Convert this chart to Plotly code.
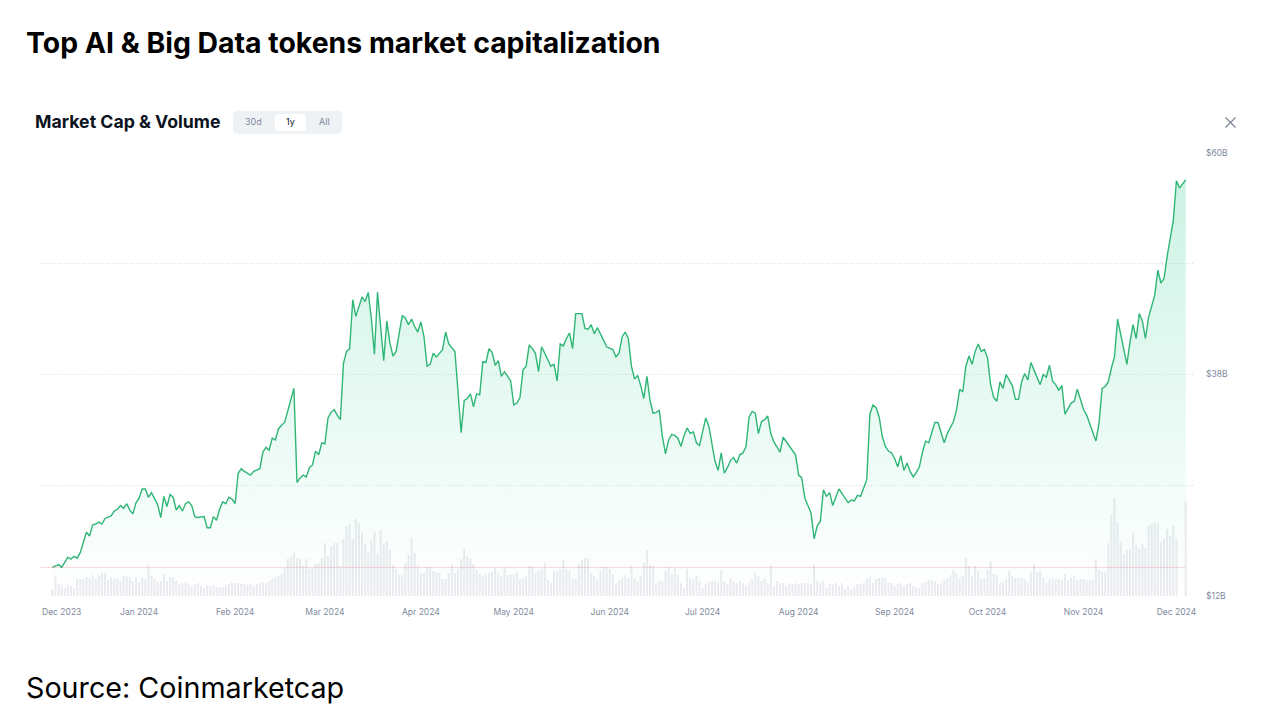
import pandas as pd
import plotly.graph_objects as go

START = pd.Timestamp("2023-12-01")

# market cap of the AI & big data tokens, $B
# (day offset from 2023-12-01, value)
mcap_day = [
    3, 5, 6, 8, 9, 10, 11, 12, 14, 15, 16, 17, 18, 19, 20, 22, 23, 24, 25, 26,
    27, 28, 29, 30, 31, 32, 33, 34, 35, 37, 38, 39, 40, 41, 42, 43, 44, 45, 46, 47,
    48, 49, 50, 52, 53, 54, 55, 56, 57, 58, 59, 60, 61, 62, 63, 64, 65, 67, 68, 70,
    71, 72, 73, 74, 75, 76, 77, 78, 81, 82, 83, 84, 85, 86, 87, 88, 89, 90, 91, 92,
    93, 94, 95, 96, 97, 98, 99, 100, 101, 102, 103, 104, 105, 106, 107, 108, 109, 110, 111, 112,
    113, 114, 116, 117, 118, 119, 120, 121, 122, 123, 124, 125, 126, 127, 129, 130, 131, 133, 135, 136,
    137, 138, 139, 140, 141, 142, 143, 144, 145, 146, 147, 148, 149, 151, 152, 153, 154, 155, 156, 157,
    158, 159, 160, 161, 162, 163, 164, 165, 166, 167, 168, 169, 170, 171, 172, 174, 175, 176, 177, 178,
    179, 180, 182, 184, 185, 186, 187, 188, 189, 190, 191, 192, 193, 194, 195, 196, 197, 198, 199, 200,
    201, 202, 203, 204, 205, 206, 207, 208, 209, 210, 211, 212, 213, 214, 215, 216, 217, 218, 219, 220,
    221, 222, 223, 224, 225, 226, 227, 228, 229, 230, 231, 232, 233, 234, 235, 236, 238, 239, 240, 242,
    243, 244, 245, 246, 248, 249, 250, 251, 252, 253, 254, 255, 257, 259, 260, 261, 262, 263, 264, 266,
    267, 268, 269, 270, 271, 272, 273, 274, 275, 276, 277, 278, 279, 280, 281, 282, 283, 284, 285, 286,
    287, 288, 289, 290, 291, 292, 294, 295, 296, 297, 298, 299, 300, 301, 302, 303, 304, 305, 306, 307,
    308, 309, 310, 311, 312, 313, 314, 315, 316, 317, 318, 319, 320, 322, 323, 324, 325, 326, 327, 328,
    329, 330, 332, 333, 334, 336, 337, 340, 341, 342, 343, 344, 345, 346, 347, 350, 351, 352, 353, 354,
    355, 356, 357, 359, 360, 361, 362, 363, 365, 366, 367, 369,
]
mcap_bn = [
    15.1, 15.4, 15.1, 16.2, 16.0, 16.3, 16.1, 16.7, 18.9, 18.5, 19.7, 19.8, 20.0, 19.8, 20.4, 20.7, 21.2, 21.4, 21.8, 21.5,
    22.0, 21.3, 20.9, 22.1, 22.6, 23.6, 23.6, 22.7, 23.2, 21.9, 20.5, 22.8, 21.7, 23.0, 22.7, 21.3, 21.8, 21.2, 22.0, 22.2,
    21.8, 20.6, 20.5, 20.6, 19.4, 19.4, 20.6, 20.2, 21.4, 22.2, 22.0, 22.7, 22.5, 22.0, 25.3, 25.8, 25.5, 25.1, 25.5, 25.8,
    27.6, 28.1, 27.8, 29.1, 28.9, 30.1, 30.5, 30.8, 34.5, 24.3, 24.8, 25.1, 24.9, 25.9, 26.2, 27.7, 27.3, 28.6, 28.5, 31.3,
    31.9, 32.2, 31.6, 31.1, 37.2, 38.5, 38.8, 44.1, 42.3, 43.5, 44.4, 43.9, 44.9, 42.1, 38.2, 44.9, 41.4, 37.5, 41.8, 39.4,
    38.0, 38.5, 42.4, 42.1, 41.4, 42.0, 41.2, 40.6, 41.7, 40.1, 36.9, 37.1, 38.3, 37.9, 38.7, 40.6, 39.3, 38.5, 29.7, 33.2,
    33.4, 33.9, 32.5, 33.9, 33.8, 37.4, 37.3, 38.8, 38.4, 37.0, 37.5, 35.8, 36.3, 35.3, 32.7, 32.9, 33.5, 36.5, 36.9, 39.2,
    38.8, 38.3, 36.3, 39.0, 38.3, 37.6, 36.9, 37.1, 35.3, 39.3, 39.1, 39.9, 40.5, 38.8, 42.6, 42.6, 41.0, 40.9, 41.4, 40.4,
    41.1, 40.4, 39.0, 38.7, 37.9, 38.3, 40.1, 40.6, 39.9, 36.9, 35.5, 35.9, 34.8, 33.4, 35.8, 33.2, 31.8, 31.9, 32.1, 29.3,
    27.4, 28.9, 29.5, 29.4, 29.1, 28.2, 29.4, 30.2, 29.6, 29.8, 28.6, 28.3, 29.7, 31.3, 30.4, 28.6, 26.6, 25.6, 27.5, 25.3,
    25.9, 26.7, 27.0, 26.4, 27.3, 27.5, 28.2, 31.4, 32.0, 31.8, 29.6, 30.9, 31.1, 31.5, 29.6, 28.7, 27.6, 29.2, 28.7, 27.8,
    27.3, 25.1, 24.8, 22.6, 21.0, 18.2, 19.6, 20.1, 23.5, 22.8, 23.2, 21.8, 23.6, 22.6, 22.1, 22.4, 22.3, 22.9, 22.8, 24.6,
    31.7, 32.7, 32.4, 31.4, 29.3, 28.2, 27.7, 27.5, 26.9, 26.0, 27.2, 25.6, 26.4, 25.5, 24.9, 25.4, 26.0, 27.6, 28.8, 28.6,
    29.8, 30.8, 30.8, 29.7, 28.6, 29.6, 30.9, 32.2, 34.4, 34.1, 36.9, 38.0, 37.1, 38.5, 39.3, 38.5, 38.7, 37.8, 34.9, 33.5,
    33.1, 35.2, 34.5, 36.0, 35.4, 34.8, 33.3, 33.3, 35.2, 36.1, 35.4, 37.3, 36.5, 34.9, 36.0, 35.7, 37.0, 35.3, 34.9, 34.3,
    34.8, 31.7, 32.9, 33.1, 34.4, 32.2, 31.6, 28.8, 30.7, 34.5, 34.7, 35.2, 36.7, 37.9, 42.0, 37.1, 39.5, 41.4, 39.9, 42.6,
    41.8, 39.9, 42.2, 44.6, 47.3, 45.9, 46.4, 48.8, 52.7, 57.0, 56.2, 57.1,
]

# daily volume, $B, 2023-12-04 .. 2024-12-01, then one more bar on 2024-12-04
volume_bn = [
    0.7, 2.0, 1.2, 1.1, 0.8, 1.1, 1.0, 0.8, 1.7, 1.7, 1.7, 1.9, 1.8, 2.1, 1.7, 2.1, 2.3, 2.3, 1.6, 1.9,
    1.7, 1.8, 1.5, 2.0, 2.0, 1.9, 1.5, 1.9, 1.4, 1.9, 1.7, 3.1, 2.0, 1.7, 1.4, 1.5, 2.2, 1.5, 1.9, 1.9,
    1.5, 1.2, 1.3, 1.4, 1.2, 1.0, 1.2, 1.3, 1.0, 0.8, 1.1, 1.0, 1.1, 0.9, 0.9, 0.9, 1.1, 1.2, 1.4, 1.3,
    1.3, 1.2, 1.2, 1.1, 1.2, 1.0, 1.2, 1.3, 1.4, 1.3, 1.5, 1.7, 1.9, 2.0, 2.2, 2.8, 3.7, 3.9, 4.3, 3.8,
    3.7, 3.0, 3.7, 2.7, 2.8, 3.2, 3.3, 3.8, 5.3, 4.0, 5.0, 5.3, 5.3, 3.0, 5.7, 7.0, 7.2, 5.7, 7.7, 7.3,
    6.3, 5.3, 4.3, 5.6, 6.4, 4.3, 6.6, 5.3, 5.4, 4.7, 3.1, 2.7, 2.1, 2.1, 3.3, 4.1, 5.7, 4.3, 3.1, 2.3,
    2.3, 2.9, 2.9, 2.5, 2.4, 2.3, 1.7, 1.7, 2.3, 3.1, 2.3, 2.7, 3.7, 4.7, 4.0, 3.7, 3.2, 2.6, 2.2, 2.0,
    2.2, 2.3, 2.4, 2.8, 2.3, 2.0, 2.9, 2.1, 2.1, 2.2, 2.4, 1.7, 1.8, 2.0, 3.0, 2.9, 2.3, 2.5, 2.7, 3.3,
    1.6, 1.3, 2.5, 2.5, 2.7, 3.6, 2.7, 2.5, 1.7, 1.7, 3.2, 3.6, 3.8, 3.8, 2.3, 2.0, 1.7, 2.5, 2.9, 2.9,
    2.7, 2.2, 1.3, 1.6, 1.8, 2.1, 1.8, 3.0, 1.8, 1.5, 2.0, 3.3, 4.6, 3.1, 3.0, 1.3, 1.6, 1.5, 2.5, 2.9,
    2.2, 2.8, 2.1, 1.3, 0.8, 2.7, 1.8, 1.7, 2.0, 1.5, 0.8, 1.2, 1.4, 1.5, 1.5, 1.4, 2.6, 1.5, 1.2, 1.8,
    1.5, 1.3, 1.5, 1.3, 1.1, 1.3, 1.7, 2.3, 2.0, 1.5, 1.7, 1.3, 3.0, 1.0, 1.5, 1.3, 1.3, 1.0, 1.3, 1.2,
    1.3, 1.2, 1.3, 1.3, 1.3, 1.2, 3.1, 1.5, 1.3, 1.5, 0.8, 1.2, 1.2, 1.3, 1.0, 1.3, 0.7, 1.0, 0.7, 0.9,
    1.2, 1.2, 1.3, 1.7, 1.9, 1.3, 1.7, 1.8, 1.9, 1.8, 1.3, 1.3, 1.0, 1.2, 1.3, 1.0, 1.2, 1.3, 1.0, 0.9,
    0.8, 1.3, 1.4, 1.6, 1.6, 1.5, 1.2, 1.3, 1.6, 1.8, 2.1, 2.6, 2.3, 1.8, 2.0, 3.8, 3.0, 2.0, 3.0, 2.5,
    1.7, 1.8, 2.6, 3.5, 2.2, 2.1, 1.3, 1.4, 1.7, 2.5, 2.0, 1.8, 1.8, 1.8, 1.7, 1.4, 2.4, 3.2, 2.4, 2.5,
    1.8, 1.3, 1.7, 1.8, 1.7, 1.7, 1.6, 2.2, 1.6, 1.8, 2.1, 1.6, 1.7, 1.7, 1.6, 1.6, 1.7, 3.7, 2.6, 2.4,
    2.4, 5.3, 8.1, 9.8, 7.3, 5.5, 4.2, 4.6, 4.7, 6.3, 5.1, 4.7, 5.2, 4.8, 7.0, 7.2, 7.4, 7.2, 5.4, 5.7,
    6.7, 6.0, 7.0, 5.7,
]
volume_last_bn = 9.5

x_tick_dates = [
    "2023-12-07", "2024-01-01", "2024-02-01", "2024-03-01", "2024-04-01", "2024-05-01", "2024-06-01",
    "2024-07-01", "2024-08-01", "2024-09-01", "2024-10-01", "2024-11-01", "2024-12-01",
]
x_tick_labels = [
    "Dec 2023", "Jan 2024", "Feb 2024", "Mar 2024", "Apr 2024", "May 2024", "Jun 2024",
    "Jul 2024", "Aug 2024", "Sep 2024", "Oct 2024", "Nov 2024", "Dec 2024",
]
y_tick_vals = [12, 24, 36, 48, 60]
y_tick_labels = ["$12B", "", "$38B", "", "$60B"]

W, H = 1265, 726
L, R, T, B = 40, 70, 153, 130
PW, PH = W - L - R, H - T - B

GREEN = "#2fb676"
GREY_TEXT = "#808a9d"
DARK = "#0d1421"
FONT = "Inter"

mcap_dates = START + pd.to_timedelta(mcap_day, unit="D")
volume_dates = list(pd.date_range("2023-12-04", "2024-12-01")) + [pd.Timestamp("2024-12-04")]
volume = volume_bn + [volume_last_bn]


def px(x):
    return (x - L) / PW


def py(y):
    return (H - B - y) / PH


def rounded_box(x0, y0, x1, y1, r, color):
    # screen pixels -> pixel offsets from the plot's bottom-left corner
    a, b = x0 - L, x1 - L
    top, bot = H - B - y0, H - B - y1
    path = (
        f"M{a + r},{bot} L{b - r},{bot} Q{b},{bot} {b},{bot + r} "
        f"L{b},{top - r} Q{b},{top} {b - r},{top} L{a + r},{top} "
        f"Q{a},{top} {a},{top - r} L{a},{bot + r} Q{a},{bot} {a + r},{bot} Z"
    )
    return dict(
        type="path", xref="paper", yref="paper", xsizemode="pixel", ysizemode="pixel",
        xanchor=0, yanchor=0, path=path, fillcolor=color, line_width=0, layer="above",
    )


def pixel_line(x0, y0, x1, y1, color, width):
    return dict(
        type="line", xref="paper", yref="paper", xsizemode="pixel", ysizemode="pixel",
        xanchor=0, yanchor=0, x0=x0 - L, x1=x1 - L, y0=H - B - y0, y1=H - B - y1,
        line=dict(color=color, width=width),
    )


fig = go.Figure()

fig.add_trace(
    go.Bar(
        x=volume_dates,
        y=volume,
        marker=dict(color="#eaebf0", line_width=0),
        yaxis="y",
        hoverinfo="skip",
    )
)

fig.add_trace(
    go.Scatter(
        x=mcap_dates,
        y=mcap_bn,
        mode="lines",
        line=dict(color=GREEN, width=1.4),
        fill="tozeroy",
        fillgradient=dict(
            type="vertical",
            colorscale=[[0, "rgba(22,199,132,0)"], [1, "rgba(22,199,132,0.23)"]],
            start=12,
            stop=60,
        ),
        yaxis="y2",
    )
)

shapes = [
    # baseline at the opening value
    dict(
        type="line", xref="paper", yref="y2", x0=0, x1=px(43 + 369 * 3.0955),
        y0=mcap_bn[0], y1=mcap_bn[0],
        line=dict(color="rgba(234,57,67,0.2)", width=1),
    ),
    rounded_box(233, 111, 342, 134, 5, "#eff2f5"),
    rounded_box(275, 114, 306, 131, 4, "#ffffff"),
    pixel_line(1225.5, 117.5, 1235.5, 127.5, "#7d8698", 1.3),
    pixel_line(1235.5, 117.5, 1225.5, 127.5, "#7d8698", 1.3),
]

annotations = [
    dict(text="Market Cap & Volume", x=px(33), y=py(122), xanchor="left", yanchor="middle",
         font=dict(family=FONT, size=17.7, color=DARK, weight=700)),
    dict(text="30d", x=px(253), y=py(122), xanchor="center", yanchor="middle",
         font=dict(family=FONT, size=9, color=GREY_TEXT)),
    dict(text="1y", x=px(290), y=py(122), xanchor="center", yanchor="middle",
         font=dict(family=FONT, size=9, color=DARK)),
    dict(text="All", x=px(324), y=py(122), xanchor="center", yanchor="middle",
         font=dict(family=FONT, size=9, color=GREY_TEXT)),
    dict(text="Source: Coinmarketcap", x=px(24), y=py(687), xanchor="left", yanchor="middle",
         font=dict(family=FONT, size=28.7, color="#000000")),
]
for a in annotations:
    a.update(xref="paper", yref="paper", showarrow=False)

fig.update_layout(
    width=W,
    height=H,
    margin=dict(l=L, r=R, t=T, b=B),
    paper_bgcolor="white",
    plot_bgcolor="white",
    showlegend=False,
    bargap=0.35,
    font=dict(family=FONT),
    title=dict(
        text="Top AI & Big Data tokens market capitalization",
        xref="container", yref="container", x=26 / W, y=1 - 43 / H,
        xanchor="left", yanchor="middle",
        font=dict(family=FONT, size=28.4, color="#000000", weight=700),
    ),
    xaxis=dict(
        type="date",
        range=["2023-11-30", "2024-12-07"],
        tickvals=x_tick_dates,
        ticktext=x_tick_labels,
        showgrid=False,
        zeroline=False,
        showline=False,
        ticks="",
        ticklabelstandoff=9,
        tickfont=dict(family=FONT, size=8.5, color=GREY_TEXT),
    ),
    yaxis=dict(range=[0, 44.3], visible=False, fixedrange=True),
    yaxis2=dict(
        overlaying="y",
        side="right",
        range=[12, 60],
        tickvals=y_tick_vals,
        ticktext=y_tick_labels,
        showgrid=True,
        gridcolor="#d9dce3",
        griddash="1px,2px",
        gridwidth=1,
        zeroline=False,
        showline=False,
        ticks="",
        ticklabelstandoff=10,
        tickfont=dict(family=FONT, size=8.5, color=GREY_TEXT),
    ),
    shapes=shapes,
    annotations=annotations,
)

fig.write_html(
    "out.html",
    config={"displayModeBar": False},
    post_script="document.body.style.margin='0';",
)
